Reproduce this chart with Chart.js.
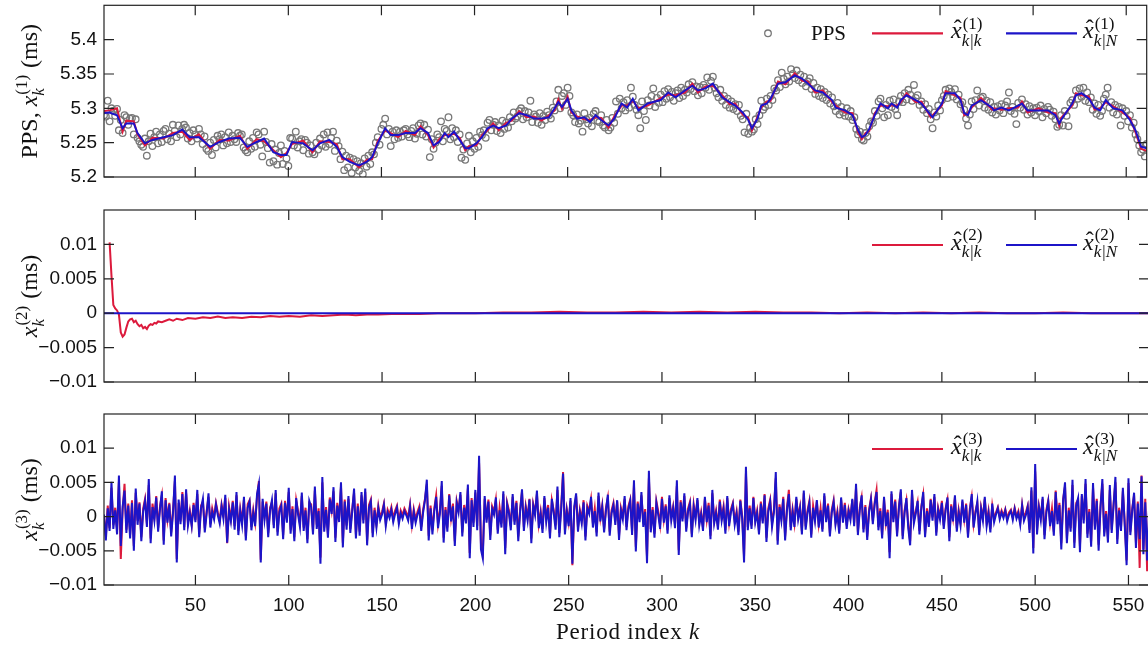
<!DOCTYPE html>
<html>
<head>
<meta charset="utf-8">
<script src="https://cdn.jsdelivr.net/npm/chart.js@4.4.1/dist/chart.umd.min.js"></script>
<style>
  html, body { margin: 0; padding: 0; background: #fff; overflow: hidden; width: 1148px; height: 647px; }
  canvas { position: absolute; left: 0; }
</style>
</head>
<body>
<canvas id="p1" width="1152" height="190" style="top:0px"></canvas>
<canvas id="p2" width="1152" height="200" style="top:195px"></canvas>
<canvas id="p3" width="1152" height="247" style="top:400px"></canvas>
<script>
const periods = Array.from({ length: 561 }, (_, i) => i + 1);
const xTicks = [50, 100, 150, 200, 250, 300, 350, 400, 450, 500, 550];
const yTicks1 = [5.2, 5.25, 5.3, 5.35, 5.4];
const yTickLabels1 = ["5.2", "5.25", "5.3", "5.35", "5.4"];
const yTicks23 = [-0.01, -0.005, 0, 0.005, 0.01];
const yTickLabels23 = ["\u22120.01", "\u22120.005", "0", "0.005", "0.01"];

// PPS measurements, one per period (ms)
const pps = [
  5.290,5.288,5.311,5.281,5.300,5.296,5.289,5.299,5.268,5.283,
  5.264,5.290,5.287,5.276,5.285,5.286,5.262,5.284,5.257,5.252,
  5.247,5.244,5.256,5.231,5.252,5.263,5.245,5.258,5.266,5.249,
  5.262,5.251,5.267,5.270,5.255,5.263,5.252,5.276,5.267,5.258,
  5.275,5.262,5.270,5.276,5.272,5.256,5.264,5.252,5.268,5.262,
  5.256,5.270,5.262,5.248,5.259,5.241,5.238,5.250,5.232,5.254,
  5.243,5.260,5.255,5.262,5.246,5.258,5.249,5.265,5.251,5.260,
  5.255,5.251,5.264,5.260,5.262,5.243,5.239,5.236,5.252,5.241,
  5.257,5.244,5.265,5.262,5.247,5.230,5.266,5.251,5.242,5.221,
  5.248,5.223,5.240,5.218,5.235,5.246,5.219,5.238,5.227,5.216,
  5.257,5.256,5.246,5.266,5.243,5.252,5.255,5.239,5.254,5.250,
  5.234,5.246,5.236,5.233,5.250,5.240,5.256,5.246,5.262,5.244,
  5.265,5.248,5.257,5.266,5.238,5.253,5.245,5.226,5.237,5.210,
  5.231,5.214,5.228,5.206,5.226,5.214,5.223,5.209,5.220,5.204,
  5.227,5.215,5.231,5.219,5.236,5.233,5.250,5.258,5.247,5.270,
  5.276,5.285,5.262,5.270,5.245,5.266,5.255,5.268,5.257,5.266,
  5.259,5.268,5.270,5.262,5.258,5.267,5.271,5.256,5.263,5.275,
  5.278,5.262,5.276,5.259,5.269,5.229,5.255,5.241,5.250,5.262,
  5.258,5.281,5.252,5.270,5.267,5.287,5.255,5.271,5.258,5.268,
  5.251,5.262,5.228,5.240,5.225,5.249,5.260,5.236,5.252,5.241,
  5.257,5.244,5.266,5.261,5.268,5.257,5.279,5.283,5.268,5.276,
  5.280,5.267,5.275,5.264,5.282,5.270,5.279,5.272,5.287,5.281,
  5.294,5.285,5.288,5.296,5.300,5.284,5.296,5.287,5.294,5.311,
  5.280,5.291,5.288,5.279,5.293,5.276,5.289,5.283,5.295,5.290,
  5.285,5.301,5.297,5.310,5.327,5.300,5.318,5.322,5.305,5.330,
  5.318,5.294,5.290,5.280,5.291,5.278,5.282,5.266,5.293,5.284,
  5.278,5.286,5.274,5.292,5.296,5.282,5.280,5.290,5.275,5.272,
  5.283,5.268,5.272,5.286,5.279,5.310,5.292,5.314,5.300,5.309,
  5.297,5.312,5.301,5.330,5.317,5.305,5.298,5.290,5.271,5.310,
  5.296,5.283,5.312,5.304,5.318,5.329,5.302,5.315,5.308,5.320,
  5.309,5.325,5.314,5.328,5.316,5.324,5.311,5.322,5.326,5.315,
  5.330,5.318,5.327,5.323,5.335,5.328,5.338,5.325,5.332,5.319,
  5.331,5.322,5.334,5.330,5.345,5.327,5.340,5.346,5.330,5.322,
  5.316,5.327,5.311,5.318,5.305,5.314,5.301,5.310,5.299,5.306,
  5.296,5.305,5.289,5.284,5.265,5.292,5.263,5.272,5.266,5.269,
  5.284,5.277,5.290,5.311,5.298,5.302,5.314,5.305,5.318,5.312,
  5.329,5.326,5.341,5.331,5.352,5.343,5.335,5.346,5.339,5.357,
  5.350,5.344,5.355,5.341,5.349,5.337,5.346,5.332,5.339,5.344,
  5.328,5.337,5.321,5.330,5.318,5.328,5.315,5.324,5.312,5.320,
  5.307,5.316,5.303,5.296,5.308,5.291,5.302,5.294,5.289,5.300,
  5.288,5.296,5.283,5.287,5.270,5.262,5.266,5.255,5.253,5.264,
  5.259,5.274,5.281,5.279,5.296,5.289,5.310,5.314,5.300,5.287,
  5.305,5.290,5.311,5.302,5.313,5.299,5.290,5.310,5.318,5.309,
  5.322,5.313,5.327,5.320,5.311,5.334,5.315,5.319,5.305,5.310,
  5.298,5.306,5.293,5.299,5.284,5.271,5.294,5.288,5.304,5.297,
  5.312,5.318,5.327,5.315,5.329,5.324,5.317,5.328,5.313,5.320,
  5.306,5.309,5.298,5.285,5.275,5.291,5.310,5.299,5.312,5.326,
  5.304,5.315,5.317,5.301,5.311,5.298,5.309,5.294,5.302,5.291,
  5.303,5.297,5.306,5.293,5.304,5.310,5.323,5.296,5.302,5.292,
  5.277,5.308,5.301,5.313,5.298,5.306,5.291,5.303,5.294,5.300,
  5.290,5.301,5.296,5.304,5.287,5.299,5.293,5.302,5.298,5.289,
  5.295,5.284,5.273,5.276,5.290,5.275,5.296,5.289,5.274,5.308,
  5.312,5.305,5.326,5.314,5.329,5.317,5.330,5.311,5.323,5.309,
  5.316,5.298,5.307,5.292,5.305,5.289,5.296,5.314,5.320,5.330,
  5.301,5.309,5.294,5.305,5.291,5.302,5.275,5.300,5.289,5.296,
  5.281,5.290,5.272,5.279,5.262,5.255,5.246,5.236,5.240,5.230,5.248
];

// x^(1): periods where the estimate curves were read, smoothed and filtered values
const estK1 = [
  1,4,8,11,13,17,19,23,27,33, 38,43,47,52,58,63,68,74,78,83,
  87,92,96,99,102,108,113,117,122,126, 129,133,138,142,145,148,152,155,159,163,
  168,171,175,178,181,184,186,189,192,195, 197,201,204,207,210,213,217,220,224,228,
  232,236,240,243,245,247,250,252,255,259, 262,265,268,272,275,279,282,285,288,293,
  300,304,308,313,317,320,324,328,333,337, 340,344,347,349,352,354,357,359,363,367,
  372,376,379,383,387,392,394,399,403,406, 408,410,412,415,418,422,424,427,429,432,
  437,440,445,446,451,453,458,461,463,465, 467,472,478,479,483,487,492,494,497,503,
  508,512,514,515,521,523,526,530,533,536, 539,543,548,552,555,558,561
];
const smoothV1 = [
  5.293,5.294,5.290,5.271,5.278,5.278,5.264,5.249,5.254,5.258, 5.261,5.269,5.258,5.258,5.244,5.251,5.256,5.257,5.244,5.251,
  5.256,5.236,5.232,5.232,5.251,5.249,5.239,5.249,5.254,5.244, 5.229,5.222,5.217,5.222,5.229,5.249,5.271,5.261,5.261,5.264,
  5.264,5.271,5.264,5.246,5.251,5.264,5.258,5.266,5.254,5.242, 5.242,5.249,5.258,5.271,5.275,5.271,5.275,5.285,5.293,5.290,
  5.285,5.285,5.287,5.300,5.309,5.302,5.314,5.297,5.285,5.287, 5.280,5.290,5.283,5.275,5.285,5.307,5.301,5.314,5.297,5.307,
  5.312,5.323,5.316,5.326,5.333,5.326,5.329,5.336,5.316,5.309, 5.304,5.294,5.283,5.271,5.285,5.304,5.307,5.314,5.336,5.338,
  5.348,5.343,5.336,5.326,5.323,5.312,5.301,5.297,5.290,5.268, 5.258,5.261,5.270,5.290,5.307,5.300,5.307,5.301,5.312,5.319,
  5.312,5.307,5.290,5.287,5.307,5.322,5.322,5.312,5.293,5.290, 5.304,5.312,5.301,5.297,5.301,5.297,5.304,5.307,5.297,5.297,
  5.297,5.290,5.278,5.283,5.307,5.319,5.322,5.314,5.301,5.297, 5.312,5.300,5.297,5.283,5.268,5.244,5.242
];
const filtV1 = [
  5.296,5.297,5.300,5.266,5.282,5.281,5.262,5.246,5.257,5.256, 5.264,5.266,5.254,5.262,5.241,5.254,5.253,5.260,5.241,5.255,
  5.252,5.239,5.229,5.235,5.248,5.253,5.236,5.252,5.251,5.248, 5.226,5.226,5.214,5.225,5.226,5.252,5.268,5.264,5.258,5.267,
  5.261,5.274,5.261,5.243,5.255,5.261,5.261,5.263,5.257,5.239, 5.245,5.246,5.261,5.268,5.278,5.268,5.279,5.282,5.296,5.287,
  5.288,5.282,5.290,5.297,5.313,5.299,5.317,5.294,5.288,5.284, 5.283,5.287,5.286,5.272,5.288,5.304,5.304,5.311,5.300,5.304,
  5.315,5.320,5.319,5.323,5.336,5.323,5.332,5.333,5.319,5.306, 5.307,5.291,5.286,5.268,5.288,5.301,5.310,5.311,5.339,5.335,
  5.351,5.340,5.339,5.323,5.326,5.309,5.304,5.294,5.293,5.265, 5.255,5.264,5.267,5.293,5.304,5.303,5.304,5.304,5.309,5.322,
  5.309,5.310,5.287,5.290,5.304,5.325,5.319,5.315,5.290,5.293, 5.301,5.315,5.298,5.300,5.298,5.300,5.301,5.310,5.294,5.300,
  5.294,5.293,5.275,5.286,5.304,5.322,5.319,5.317,5.298,5.300, 5.309,5.303,5.294,5.286,5.265,5.241,5.238
];

// x^(2)
const filtK2 = [
  4,5,6,7,8,9,10,11,12,13,14,15,16,17,18,19,20,21,22,23,24,25,26,27,28,29,30,
  32,34,36,38,40,43,46,50,54,58,62,66,70,75,80,85,90,95,100,106,112,118,124,130,136,
  142,148,155,162,170,180,190,200,215,230,245,260,275,290,305,320,335,350,365,380,
  395,410,425,440,455,470,485,500,515,530,545,561
];
const filtV2 = [
  0.0103,0.0055,0.0012,0.0007,0.0004,-0.0002,-0.0028,-0.0034,-0.0031,-0.0021,
  -0.0012,-0.0009,-0.0008,-0.0013,-0.0011,-0.0016,-0.0019,-0.0017,-0.0022,-0.0020,
  -0.0023,-0.0018,-0.0016,-0.0017,-0.0014,-0.0015,-0.0012,
  -0.0013,-0.0011,-0.0009,-0.0011,-0.0008,-0.0010,-0.0007,-0.0008,-0.0006,-0.0007,
  -0.0005,-0.0007,-0.0006,-0.0007,-0.0005,-0.0006,-0.0004,-0.0005,-0.0004,-0.0005,
  -0.0003,-0.0004,-0.0003,-0.0002,-0.0003,-0.0002,-0.0002,-0.0001,-0.0001,-0.0001,
  0.0000,0.0000,0.0000,0.0001,0.0001,0.0002,0.0001,0.0001,0.0002,0.0001,0.0002,
  0.0001,0.0002,0.0001,0.0001,0.0000,0.0001,0.0000,0.0001,0.0000,0.0001,0.0000,
  0.0000,0.0001,0.0000,0.0000,0.0000
];
const smoothK2 = [1, 561];
const smoothV2 = [0, 0];

// x^(3), one value per period (ms)
const filtV3 = [
  0.0000,-0.0028,0.0016,-0.0017,0.0042,-0.0012,0.0013,-0.0020,0.0051,-0.0062,
  0.0010,0.0048,-0.0019,0.0019,-0.0026,0.0024,-0.0043,0.0035,-0.0006,0.0021,
  -0.0030,0.0012,0.0026,-0.0010,0.0046,-0.0032,0.0019,-0.0002,0.0030,-0.0017,
  0.0015,0.0031,-0.0035,0.0027,-0.0004,0.0020,-0.0023,0.0010,0.0052,-0.0062,
  0.0020,-0.0007,0.0036,-0.0015,0.0034,-0.0009,0.0009,-0.0012,0.0020,-0.0005,
  0.0033,-0.0025,0.0016,0.0022,-0.0017,0.0008,0.0029,-0.0011,0.0012,0.0000,
  0.0020,0.0006,-0.0006,0.0018,0.0002,0.0027,-0.0039,0.0015,-0.0003,0.0023,
  -0.0014,0.0031,-0.0021,0.0012,-0.0007,0.0025,-0.0029,0.0018,0.0024,-0.0015,
  0.0010,-0.0009,0.0028,0.0052,-0.0063,0.0022,-0.0001,0.0022,-0.0024,0.0013,
  0.0021,-0.0012,0.0034,-0.0022,0.0012,0.0019,-0.0027,0.0023,-0.0004,0.0036,
  -0.0019,0.0015,-0.0030,0.0024,0.0008,-0.0010,0.0030,-0.0016,0.0013,-0.0033,
  0.0020,0.0018,-0.0021,0.0038,-0.0012,0.0012,-0.0060,0.0050,-0.0016,0.0014,
  -0.0025,0.0028,0.0009,0.0037,-0.0031,0.0020,-0.0003,0.0044,-0.0038,0.0025,
  -0.0013,0.0026,-0.0018,0.0011,0.0035,-0.0026,0.0019,-0.0022,0.0031,-0.0005,
  0.0036,-0.0035,0.0017,0.0025,-0.0024,0.0013,-0.0011,0.0016,-0.0001,0.0007,
  0.0019,-0.0009,0.0010,0.0003,0.0014,-0.0003,0.0009,0.0016,-0.0006,0.0009,
  0.0002,0.0012,0.0006,-0.0001,0.0018,-0.0012,0.0011,-0.0004,0.0007,0.0015,
  -0.0015,0.0010,0.0026,0.0047,-0.0028,0.0016,-0.0020,0.0012,0.0031,-0.0011,
  0.0009,0.0045,-0.0031,0.0014,-0.0016,0.0033,-0.0002,0.0019,-0.0036,0.0023,
  0.0010,0.0032,-0.0023,0.0017,-0.0005,0.0041,-0.0053,0.0027,-0.0009,0.0035,
  -0.0014,0.0078,-0.0039,-0.0052,0.0026,-0.0004,0.0025,-0.0027,0.0015,0.0007,
  0.0025,-0.0019,0.0013,-0.0010,0.0033,-0.0046,0.0021,0.0009,-0.0014,0.0029,
  -0.0007,0.0023,-0.0029,0.0011,0.0036,-0.0015,0.0016,-0.0001,0.0026,-0.0032,
  0.0019,0.0006,0.0033,-0.0011,0.0008,-0.0018,0.0027,-0.0003,0.0017,-0.0026,
  0.0024,0.0009,-0.0013,0.0039,-0.0024,0.0015,0.0065,-0.0020,0.0011,-0.0008,
  0.0023,-0.0071,0.0010,0.0030,-0.0016,0.0010,-0.0005,0.0024,-0.0029,0.0016,
  0.0008,0.0026,-0.0010,0.0012,-0.0023,0.0030,-0.0002,0.0017,-0.0018,0.0013,
  0.0028,-0.0022,0.0009,0.0020,-0.0007,0.0022,-0.0028,0.0013,0.0001,0.0026,
  -0.0015,0.0015,0.0025,-0.0021,0.0046,-0.0044,0.0022,-0.0003,0.0031,-0.0010,
  0.0011,-0.0059,0.0056,-0.0018,0.0014,-0.0025,0.0023,0.0008,-0.0012,0.0029,
  -0.0004,0.0018,-0.0020,0.0027,-0.0001,0.0015,-0.0012,0.0045,-0.0049,0.0024,
  -0.0003,0.0030,-0.0017,0.0012,0.0022,-0.0025,0.0018,-0.0001,0.0024,-0.0008,
  0.0007,-0.0016,0.0026,-0.0004,0.0020,-0.0028,0.0034,-0.0006,0.0009,-0.0014,
  0.0025,-0.0002,0.0015,-0.0020,0.0027,-0.0009,0.0011,0.0020,-0.0007,0.0008,
  -0.0022,0.0025,0.0001,-0.0058,0.0063,-0.0015,0.0016,-0.0013,0.0029,-0.0005,
  0.0009,-0.0021,0.0022,-0.0006,0.0033,-0.0031,0.0012,0.0025,-0.0010,0.0010,
  0.0056,-0.0035,0.0018,-0.0002,0.0029,-0.0029,0.0014,0.0039,-0.0015,0.0011,
  -0.0010,0.0026,0.0000,0.0015,-0.0021,0.0034,-0.0014,0.0009,0.0023,-0.0026,
  0.0016,-0.0003,0.0022,-0.0011,0.0012,-0.0018,0.0030,-0.0004,0.0019,-0.0024,
  0.0010,0.0024,-0.0008,0.0008,-0.0020,0.0025,-0.0005,0.0020,-0.0013,0.0011,
  -0.0001,0.0024,-0.0009,0.0042,-0.0022,0.0013,0.0028,-0.0018,0.0017,-0.0029,
  0.0011,0.0027,-0.0006,0.0021,0.0039,-0.0015,0.0012,-0.0027,0.0026,-0.0009,
  0.0010,-0.0052,0.0033,-0.0003,0.0025,-0.0024,0.0016,0.0036,-0.0028,0.0009,
  0.0024,-0.0012,-0.0036,0.0034,-0.0005,0.0008,0.0021,-0.0021,0.0015,0.0032,
  -0.0025,0.0012,-0.0010,0.0026,-0.0001,0.0029,-0.0023,0.0013,0.0000,0.0023,
  -0.0013,0.0012,0.0025,-0.0030,0.0018,-0.0002,0.0028,-0.0017,0.0010,-0.0008,
  0.0022,-0.0004,0.0019,-0.0026,0.0012,0.0029,-0.0011,0.0008,0.0020,-0.0022,
  0.0014,-0.0001,0.0026,-0.0009,0.0009,-0.0018,0.0016,-0.0003,0.0006,0.0014,
  0.0000,0.0009,0.0001,0.0011,-0.0003,0.0006,0.0010,-0.0001,0.0013,0.0000,
  0.0008,-0.0008,0.0018,-0.0002,0.0006,0.0016,-0.0019,0.0038,-0.0046,0.0066,
  -0.0020,0.0016,0.0000,0.0026,-0.0027,0.0010,0.0024,-0.0009,0.0012,-0.0022,
  0.0038,-0.0006,0.0020,-0.0039,0.0026,0.0044,-0.0032,0.0013,-0.0017,0.0046,
  -0.0038,0.0020,0.0025,-0.0043,0.0030,-0.0005,0.0048,-0.0025,0.0011,-0.0036,
  0.0043,-0.0014,0.0026,-0.0041,0.0016,0.0048,-0.0023,0.0008,-0.0031,0.0039,
  -0.0019,0.0018,0.0050,-0.0033,0.0013,-0.0016,0.0037,-0.0008,-0.0064,0.0049,
  -0.0022,0.0012,0.0031,-0.0038,0.0022,-0.0075,0.0060,-0.0048,0.0026,-0.0080,0.0006
];
const smoothV3 = [
  0.0003,-0.0035,0.0012,-0.0021,0.0051,-0.0018,0.0009,-0.0026,0.0060,-0.0043,
  0.0015,0.0038,-0.0024,0.0016,-0.0032,0.0020,-0.0050,0.0041,-0.0012,0.0019,
  -0.0036,0.0008,0.0023,-0.0015,0.0055,-0.0039,0.0014,-0.0006,0.0028,-0.0022,
  0.0011,0.0037,-0.0041,0.0024,-0.0009,0.0018,-0.0029,0.0006,0.0060,-0.0067,
  0.0025,-0.0011,0.0033,-0.0020,0.0040,-0.0013,0.0005,-0.0014,0.0017,-0.0008,
  0.0039,-0.0030,0.0012,0.0026,-0.0023,0.0004,0.0034,-0.0016,0.0007,-0.0004,
  0.0018,0.0002,-0.0010,0.0015,-0.0003,0.0032,-0.0038,0.0010,-0.0007,0.0021,
  -0.0019,0.0036,-0.0027,0.0008,-0.0012,0.0029,-0.0035,0.0013,0.0022,-0.0020,
  0.0006,-0.0014,0.0033,0.0048,-0.0067,0.0026,-0.0005,0.0019,-0.0030,0.0009,
  0.0024,-0.0017,0.0039,-0.0028,0.0007,0.0016,-0.0033,0.0020,-0.0009,0.0042,
  -0.0025,0.0011,-0.0036,0.0027,0.0003,-0.0015,0.0035,-0.0021,0.0009,-0.0039,
  0.0023,0.0014,-0.0026,0.0044,-0.0018,0.0008,-0.0069,0.0058,-0.0022,0.0010,
  -0.0031,0.0025,0.0004,0.0043,-0.0037,0.0016,-0.0008,0.0050,-0.0045,0.0022,
  -0.0019,0.0030,-0.0024,0.0007,0.0041,-0.0032,0.0015,-0.0028,0.0036,-0.0010,
  0.0041,-0.0042,0.0013,0.0022,-0.0030,0.0009,-0.0016,0.0012,-0.0005,0.0003,
  0.0017,-0.0014,0.0006,-0.0002,0.0010,-0.0008,0.0004,0.0013,-0.0011,0.0005,
  -0.0003,0.0008,0.0002,-0.0006,0.0015,-0.0018,0.0007,-0.0009,0.0003,0.0011,
  -0.0021,0.0006,0.0024,0.0054,-0.0035,0.0012,-0.0026,0.0008,0.0029,-0.0017,
  0.0004,0.0052,-0.0038,0.0010,-0.0022,0.0031,-0.0007,0.0015,-0.0043,0.0020,
  0.0006,0.0036,-0.0029,0.0013,-0.0010,0.0047,-0.0061,0.0024,-0.0015,0.0039,
  -0.0020,0.0089,-0.0048,-0.0061,0.0030,-0.0009,0.0022,-0.0034,0.0011,0.0003,
  0.0028,-0.0025,0.0009,-0.0016,0.0037,-0.0055,0.0018,0.0005,-0.0020,0.0033,
  -0.0012,0.0020,-0.0036,0.0007,0.0040,-0.0021,0.0012,-0.0006,0.0025,-0.0039,
  0.0016,0.0002,0.0038,-0.0017,0.0004,-0.0024,0.0030,-0.0008,0.0013,-0.0032,
  0.0026,0.0005,-0.0019,0.0044,-0.0030,0.0010,0.0063,-0.0026,0.0008,-0.0014,
  0.0027,-0.0069,0.0015,0.0034,-0.0022,0.0006,-0.0010,0.0021,-0.0035,0.0012,
  0.0004,0.0029,-0.0016,0.0008,-0.0029,0.0035,-0.0007,0.0014,-0.0023,0.0009,
  0.0032,-0.0028,0.0005,0.0017,-0.0012,0.0024,-0.0034,0.0009,-0.0004,0.0030,
  -0.0020,0.0011,0.0023,-0.0027,0.0053,-0.0051,0.0019,-0.0008,0.0036,-0.0015,
  0.0007,-0.0068,0.0067,-0.0023,0.0010,-0.0031,0.0020,0.0003,-0.0018,0.0026,
  -0.0009,0.0015,-0.0025,0.0031,-0.0006,0.0012,-0.0017,0.0053,-0.0056,0.0021,
  -0.0007,0.0034,-0.0022,0.0008,0.0019,-0.0030,0.0014,-0.0005,0.0027,-0.0013,
  0.0003,-0.0021,0.0029,-0.0008,0.0016,-0.0033,0.0039,-0.0010,0.0005,-0.0019,
  0.0022,-0.0006,0.0011,-0.0025,0.0030,-0.0014,0.0007,0.0018,-0.0012,0.0004,
  -0.0027,0.0023,-0.0003,-0.0067,0.0073,-0.0020,0.0012,-0.0018,0.0027,-0.0009,
  0.0005,-0.0026,0.0019,-0.0010,0.0031,-0.0037,0.0008,0.0022,-0.0015,0.0006,
  0.0065,-0.0041,0.0014,-0.0006,0.0026,-0.0035,0.0010,0.0033,-0.0020,0.0007,
  -0.0015,0.0029,-0.0004,0.0012,-0.0026,0.0038,-0.0019,0.0005,0.0020,-0.0031,
  0.0013,-0.0007,0.0024,-0.0016,0.0009,-0.0022,0.0034,-0.0008,0.0016,-0.0029,
  0.0006,0.0021,-0.0012,0.0004,-0.0025,0.0028,-0.0009,0.0017,-0.0018,0.0008,
  -0.0005,0.0026,-0.0014,0.0048,-0.0027,0.0009,0.0031,-0.0023,0.0014,-0.0034,
  0.0007,0.0025,-0.0011,0.0018,0.0036,-0.0020,0.0008,-0.0032,0.0029,-0.0014,
  0.0006,-0.0061,0.0037,-0.0008,0.0022,-0.0029,0.0013,0.0040,-0.0033,0.0005,
  0.0027,-0.0017,-0.0042,0.0039,-0.0010,0.0004,0.0023,-0.0026,0.0012,0.0036,
  -0.0030,0.0008,-0.0015,0.0024,-0.0006,0.0033,-0.0028,0.0010,-0.0004,0.0020,
  -0.0018,0.0009,0.0028,-0.0036,0.0015,-0.0007,0.0031,-0.0022,0.0006,-0.0013,
  0.0025,-0.0009,0.0017,-0.0031,0.0008,0.0033,-0.0016,0.0004,0.0022,-0.0027,
  0.0011,-0.0006,0.0029,-0.0014,0.0005,-0.0023,0.0019,-0.0008,0.0003,0.0012,
  -0.0004,0.0006,-0.0002,0.0009,-0.0007,0.0003,0.0008,-0.0005,0.0011,-0.0003,
  0.0005,-0.0012,0.0016,-0.0006,0.0002,0.0014,-0.0024,0.0043,-0.0054,0.0077,
  -0.0026,0.0013,-0.0005,0.0029,-0.0033,0.0006,0.0022,-0.0014,0.0008,-0.0028,
  0.0036,-0.0011,0.0017,-0.0048,0.0024,0.0050,-0.0039,0.0009,-0.0022,0.0054,
  -0.0046,0.0016,0.0027,-0.0052,0.0033,-0.0010,0.0055,-0.0031,0.0007,-0.0044,
  0.0049,-0.0019,0.0023,-0.0050,0.0012,0.0055,-0.0029,0.0004,-0.0038,0.0046,
  -0.0024,0.0015,0.0058,-0.0040,0.0009,-0.0021,0.0042,-0.0013,-0.0071,0.0056,
  -0.0027,0.0008,0.0035,-0.0046,0.0019,-0.0033,0.0059,-0.0055,0.0021,-0.0064,0.0010
];

const RED = "#dc1a3c";
const BLUE = "#1c14c8";
const GREY = "#787878";
const SERIF = '"Liberation Serif", "DejaVu Serif", serif';
const SANS = '"Liberation Sans", Arial, sans-serif';

function pts(ks, vs) {
  return ks.map((k, i) => ({ x: k, y: vs[i] }));
}

// draws a run of text pieces; objects are italic symbols with optional hat, sup and sub
function mathRun(ctx, items, x, y, size, draw) {
  let cx = x;
  for (const it of items) {
    if (typeof it === "string") {
      ctx.font = size + "px " + SERIF;
      if (draw) ctx.fillText(it, cx, y);
      cx += ctx.measureText(it).width;
      continue;
    }
    ctx.font = "italic " + size + "px " + SERIF;
    const w = ctx.measureText(it.v).width;
    if (draw) ctx.fillText(it.v, cx, y);
    if (it.hat && draw) {
      ctx.font = size + "px " + SERIF;
      const hw = ctx.measureText("\u02C6").width;
      ctx.fillText("\u02C6", cx + w / 2 - hw / 2 + 1.5, y - size * 0.1);
    }
    const s = Math.round(size * 0.7);
    let ws = 0, wb = 0;
    if (it.sup) {
      ctx.font = s + "px " + SERIF;
      ws = ctx.measureText(it.sup).width;
      if (draw) ctx.fillText(it.sup, cx + w + 1, y - size * 0.4);
    }
    if (it.sub) {
      ctx.font = "italic " + s + "px " + SERIF;
      wb = ctx.measureText(it.sub).width;
      if (draw) ctx.fillText(it.sub, cx + w, y + size * 0.3);
    }
    cx += w + Math.max(ws, wb) + (ws || wb ? 2 : 1);
  }
  return cx - x;
}

// per-panel decorations, looked up by canvas id
const panelMeta = {};

const framePlugin = {
  id: "frame",
  afterDatasetsDraw(chart) {
    const o = panelMeta[chart.canvas.id];
    const { ctx, chartArea: a } = chart;
    const xs = chart.scales.x, ys = chart.scales.y;
    ctx.save();
    ctx.strokeStyle = "#222";
    ctx.lineWidth = 1.2;
    ctx.strokeRect(a.left, a.top, a.right - a.left, a.bottom - a.top);
    ctx.beginPath();
    xTicks.forEach(v => {
      const p = xs.getPixelForValue(v);
      ctx.moveTo(p, a.top); ctx.lineTo(p, a.top + 10);
      ctx.moveTo(p, a.bottom); ctx.lineTo(p, a.bottom - 10);
    });
    o.yTicks.forEach(v => {
      const p = ys.getPixelForValue(v);
      ctx.moveTo(a.left, p); ctx.lineTo(a.left + 10, p);
      ctx.moveTo(a.right, p); ctx.lineTo(a.right - 10, p);
    });
    ctx.stroke();

    ctx.fillStyle = "#111";
    ctx.textAlign = "left";
    ctx.textBaseline = "alphabetic";

    // rotated y title
    const tw = mathRun(ctx, o.title, 0, 0, 24, false);
    ctx.save();
    ctx.translate(37, (a.top + a.bottom) / 2);
    ctx.rotate(-Math.PI / 2);
    mathRun(ctx, o.title, -tw / 2, 0, 24, true);
    ctx.restore();

    // legend
    const ly = a.top + o.legendDy;
    o.legend.forEach(item => {
      if (item.marker) {
        ctx.beginPath();
        ctx.arc(item.x0, ly, 3.3, 0, Math.PI * 2);
        ctx.strokeStyle = GREY; ctx.lineWidth = 1.3;
        ctx.stroke();
        ctx.font = "21px " + SERIF;
        ctx.fillText(item.label, item.tx, ly + 7);
      } else {
        ctx.beginPath();
        ctx.moveTo(item.x0, ly); ctx.lineTo(item.x1, ly);
        ctx.strokeStyle = item.color; ctx.lineWidth = 2.2;
        ctx.stroke();
        mathRun(ctx, item.label, item.tx, ly + 5, 24, true);
      }
    });

    if (o.xTitle) {
      const items = ["Period index ", { v: "k" }];
      if ("letterSpacing" in ctx) ctx.letterSpacing = "0.8px";
      const w = mathRun(ctx, items, 0, 0, 23, false);
      mathRun(ctx, items, (a.left + a.right) / 2 - w / 2 + 2, a.bottom + 54, 23, true);
    }
    ctx.restore();
  }
};

function legendFor(n, withPps) {
  const items = [];
  if (withPps) items.push({ marker: true, x0: 768, tx: 811, label: "PPS" });
  items.push({ color: RED, x0: 872, x1: 943, tx: 951,
    label: [{ v: "x", hat: true, sup: "(" + n + ")", sub: "k|k" }] });
  items.push({ color: BLUE, x0: 1006, x1: 1077, tx: 1083,
    label: [{ v: "x", hat: true, sup: "(" + n + ")", sub: "k|N" }] });
  return items;
}

function lineSet(data, color) {
  return { data, borderColor: color, borderWidth: 2, pointRadius: 0, fill: false, tension: 0 };
}

function makePanel(id, cfg) {
  panelMeta[id] = { yTicks: cfg.yTicks, title: cfg.title, legend: cfg.legend, legendDy: cfg.legendDy, xTitle: cfg.xTitle };
  const zeroPad = s => { s.paddingLeft = 0; s.paddingRight = 0; s.paddingTop = 0; s.paddingBottom = 0; };
  return new Chart(document.getElementById(id), {
    type: "line",
    data: { datasets: cfg.datasets },
    plugins: [framePlugin],
    options: {
      responsive: false,
      animation: false,
      devicePixelRatio: 1,
      layout: { padding: { left: 0, right: 3, top: cfg.padTop, bottom: cfg.padBottom } },
      plugins: {
        legend: { display: false },
        tooltip: { enabled: false }
      },
      scales: {
        x: {
          type: "linear", min: 1, max: 561,
          display: cfg.showX,
          afterBuildTicks: s => { s.ticks = xTicks.map(v => ({ value: v })); },
          ticks: { color: "#111", font: { family: SANS, size: 19 }, padding: 9, maxRotation: 0, autoSkip: false },
          grid: { display: false, drawTicks: false },
          border: { display: false },
          afterFit: s => { zeroPad(s); if (cfg.showX) s.height = 62; }
        },
        y: {
          min: cfg.yMin, max: cfg.yMax,
          afterBuildTicks: s => { s.ticks = cfg.yTicks.map(v => ({ value: v })); },
          ticks: { color: "#111", font: { family: SANS, size: 19 }, padding: 7,
            callback: (v, i) => cfg.yLabels[i] },
          grid: { display: false, drawTicks: false },
          border: { display: false },
          afterFit: s => { zeroPad(s); s.width = 104; }
        }
      }
    }
  });
}

makePanel("p1", {
  padTop: 5, padBottom: 13, showX: false, yMin: 5.2, yMax: 5.45,
  yTicks: yTicks1, yLabels: yTickLabels1,
  title: ["PPS, ", { v: "x", sup: "(1)", sub: "k" }, " (ms)"],
  legend: legendFor(1, true), legendDy: 28,
  datasets: [
    lineSet(pts(estK1, smoothV1), BLUE),
    lineSet(pts(estK1, filtV1), RED),
    { data: pts(periods, pps), showLine: false, pointStyle: "circle", pointRadius: 3.3,
      borderColor: GREY, borderWidth: 1.3, backgroundColor: "rgba(0,0,0,0)" }
  ]
});

makePanel("p2", {
  padTop: 15, padBottom: 13, showX: false, yMin: -0.01, yMax: 0.015,
  yTicks: yTicks23, yLabels: yTickLabels23,
  title: [{ v: "x", sup: "(2)", sub: "k" }, " (ms)"],
  legend: legendFor(2, false), legendDy: 35,
  datasets: [
    lineSet(pts(smoothK2, smoothV2), BLUE),
    lineSet(pts(filtK2, filtV2), RED)
  ]
});

makePanel("p3", {
  padTop: 14, padBottom: 0, showX: true, xTitle: true, yMin: -0.01, yMax: 0.015,
  yTicks: yTicks23, yLabels: yTickLabels23,
  title: [{ v: "x", sup: "(3)", sub: "k" }, " (ms)"],
  legend: legendFor(3, false), legendDy: 35,
  datasets: [
    lineSet(pts(periods, smoothV3), BLUE),
    lineSet(pts(periods, filtV3), RED)
  ]
});
</script>
</body>
</html>
